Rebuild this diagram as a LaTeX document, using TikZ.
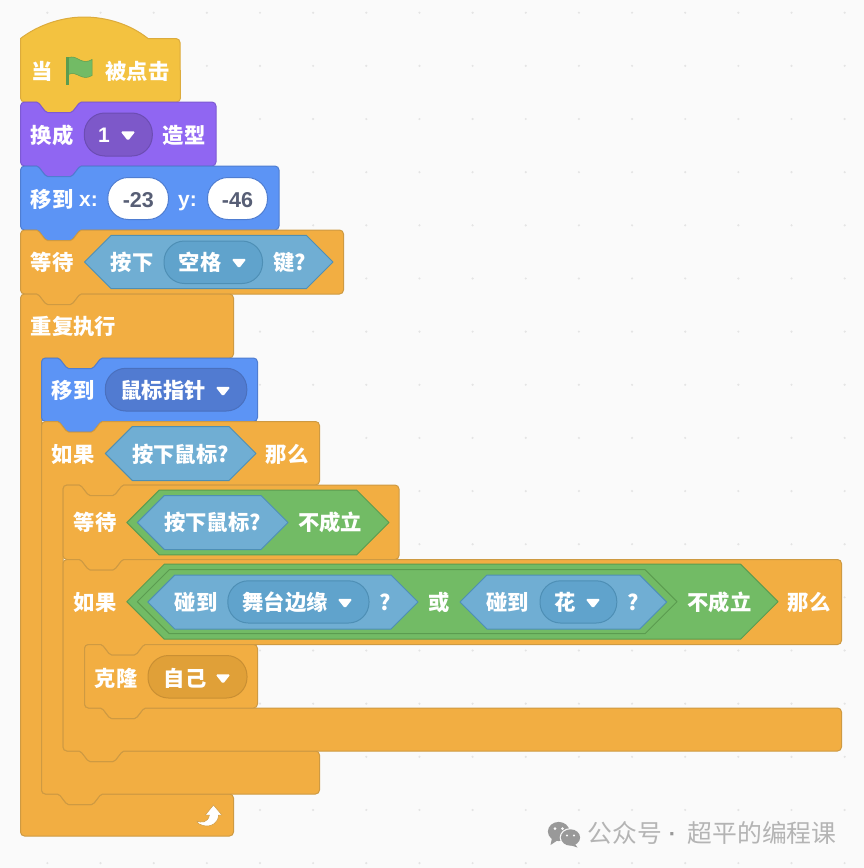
\documentclass[tikz,border=0pt]{standalone}
\usepackage{fontspec}
\setmainfont{Liberation Sans}
\newfontfamily\cjkf{Noto Sans CJK SC}
\definecolor{bgc}{HTML}{FAFAFA}
\definecolor{dotc}{HTML}{E4E4E4}
\definecolor{orf}{HTML}{F2AE42}
\definecolor{ord}{HTML}{CE9A42}
\definecolor{orp}{HTML}{E0A038}
\definecolor{orq}{HTML}{C98F33}
\definecolor{hatf}{HTML}{F3C240}
\definecolor{hatd}{HTML}{DCAB3C}
\definecolor{puf}{HTML}{9066F2}
\definecolor{pud}{HTML}{7D5AD2}
\definecolor{pup}{HTML}{7D58C9}
\definecolor{puq}{HTML}{6C4DB3}
\definecolor{blf}{HTML}{5C94F5}
\definecolor{bld}{HTML}{4F7DD1}
\definecolor{blp}{HTML}{517BD1}
\definecolor{blq}{HTML}{4A70BE}
\definecolor{sef}{HTML}{70AED3}
\definecolor{sed}{HTML}{4E8FB5}
\definecolor{sep}{HTML}{60A3CC}
\definecolor{grf}{HTML}{72BB65}
\definecolor{grd}{HTML}{5B9C50}
\definecolor{numc}{HTML}{575E75}
\definecolor{wmc}{HTML}{B4B4B4}
\tikzset{
  lbl/.style={inner sep=0pt,text=white,font=\cjkf\bfseries\fontsize{21.3}{21}\selectfont},
  lat/.style={inner sep=0pt,text=white,font=\bfseries\fontsize{21}{21}\selectfont},
  num/.style={inner sep=0pt,text=numc,font=\bfseries\fontsize{21.5}{21}\selectfont},
  wm/.style={inner sep=0pt,text=wmc,font=\cjkf\fontsize{24.8}{25}\selectfont},
  wmd/.style={inner sep=0pt,text=wmc!85!black,font=\bfseries\fontsize{22}{22}\selectfont},
  edge/.style={line width=1pt,line join=round},
  orb/.style={edge,fill=orf,draw=ord},
  hat/.style={edge,fill=hatf,draw=hatd},
  pub/.style={edge,fill=puf,draw=pud},
  blb/.style={edge,fill=blf,draw=bld},
  hexs/.style={edge,fill=sef,draw=sed},
  hexg/.style={edge,fill=grf,draw=grd},
  pills/.style={edge,fill=sep,draw=sed},
  pillp/.style={edge,fill=pup,draw=puq},
  pillb/.style={edge,fill=blp,draw=blq},
  pillo/.style={edge,fill=orp,draw=orq},
  pillw/.style={edge,fill=white,draw=bld},
}
\def\sbTL{.. controls +(0,-2.2) and +(-2.2,0) .. ++(4,-4)}
\def\sbTR{.. controls +(2.2,0) and +(0,-2.2) .. ++(4,4)}
\def\sbBR{.. controls +(0,2.2) and +(2.2,0) .. ++(-4,4)}
\def\sbBL{.. controls +(-2.2,0) and +(0,2.2) .. ++(-4,-4)}
\def\sbIA{.. controls +(-2.2,0) and +(0,-2.2) .. ++(-4,4)}
\def\sbIB{.. controls +(0,2.2) and +(-2.2,0) .. ++(4,4)}
\def\sbND{.. controls +(3.5,0) and +(-3.5,0) .. ++(11,10.5)}
\def\sbNU{.. controls +(3.5,0) and +(-3.5,0) .. ++(11,-10.5)}
\def\sbBU{.. controls +(-3.5,0) and +(3.5,0) .. ++(-11,10.5)}
\def\sbBD{.. controls +(-3.5,0) and +(3.5,0) .. ++(-11,-10.5)}
\def\sbTN{-- ++(12,0) \sbND -- ++(23,0) \sbNU}
\def\sbBN{\sbBU -- ++(-23,0) \sbBD}
% style, x, y-top, x-right, y-bottom
\newcommand\stackblk[5]{\draw[#1] (#2,#3+4) \sbTL \sbTN -- ({#4-4},#3) \sbTR -- (#4,{#5-4}) \sbBR -- ({#2+61},#5) \sbBN -- ({#2+4},#5) \sbBL -- cycle;}
% x, ytop, inner x, head right, head bottom, arm top, arm right, bottom, bottom notch
\newcommand\cblk[9]{\draw[orb] (#1,#2+4) \sbTL \sbTN -- ({#4-4},#2) \sbTR -- (#4,{#5-4}) \sbBR -- ({#3+61},#5) \sbBN -- ({#3+4},#5) \sbIA -- (#3,{#6-4}) \sbIB \sbTN -- ({#7-4},#6) \sbTR -- (#7,{#8-4}) \sbBR -- ({#1+61},#8) #9 -- ({#1+4},#8) \sbBL -- cycle;}
% style, x1, x2, ym, half height
\newcommand\hexa[5]{\draw[#1] (#2,#4) -- ({#2+#5},{#4-#5}) -- ({#3-#5},{#4-#5}) -- (#3,#4) -- ({#3-#5},{#4+#5}) -- ({#2+#5},{#4+#5}) -- cycle;}
% style, x1, y1, x2, y2
\newcommand\pill[5]{\draw[#1,rounded corners=20.5] (#2,#3) rectangle (#4,#5);}
\newcommand\ddn[2]{\fill[white,rounded corners=1.6] ({#1-7.5},{#2-4.2}) -- ({#1+7.5},{#2-4.2}) -- (#1,{#2+5.4}) -- cycle;}
\newcommand\tx[4]{\node[lbl,anchor=base] (#1) at (#2,{#3+8.4}) {#4};}
\newcommand\ltx[4]{\node[lat,anchor=base] (#1) at (#2,{#3+7.7}) {#4};}
\newcommand\ntx[4]{\node[num,anchor=base] (#1) at (#2,{#3+8}) {#4};}
\begin{document}
\begin{tikzpicture}[x=1pt,y=-1pt]
\useasboundingbox (0,0) rectangle (864,868);
\fill[bgc] (0,0) rectangle (864,868);
\foreach \i in {0,...,15} \foreach \j in {0,...,16}
  \fill[dotc] ({47.4+53.15*\i},{12.7+53.15*\j}) circle (1.2);

% --- blocks
\draw[hat] (20.5,42) -- (20.5,38.5) .. controls (38,25) and (62,17) .. (84,17) .. controls (106,17) and (130,24) .. (148,38.5) -- (176,38.5) \sbTR -- (180.5,98) \sbBR -- (81.5,102) \sbBN -- (24.5,102) \sbBL -- cycle;
\stackblk{pub}{20.5}{102}{216}{166}
\stackblk{blb}{20.5}{166}{279}{230}
\stackblk{orb}{20.5}{230}{343.5}{294}
\cblk{20.5}{294}{41.5}{233.5}{358}{794}{233.5}{836}{}
\stackblk{blb}{41.5}{358}{257.5}{421.5}
\cblk{41.5}{421.5}{63}{319.5}{485}{751}{319.5}{794}{\sbBN}
\stackblk{orb}{63}{485}{399}{559.5}
\cblk{63}{559.5}{84.5}{841.5}{644.5}{708}{841.5}{751}{\sbBN}
\stackblk{orb}{84.5}{644.5}{257.5}{708}

% --- hat block
\tx{tDang}{42}{71}{当}
\fill[grf,draw=grd,line width=.5pt] (68,58) .. controls (73,55.5) and (76,58) .. (80,60) .. controls (84,62) and (88,62) .. (92,59.5) -- (92,75.5) .. controls (88,78) and (84,78) .. (80,76) .. controls (76,74) and (73,72.5) .. (68,74.5) -- cycle;
\fill[grd] (66.4,57) rectangle (69,84.5);
\tx{tClick}{137.5}{71}{被点击}

% --- costume
\tx{tSwitch}{52}{135}{换成}
\pill{pillp}{84.3}{113}{152.3}{156}
\ltx{tOne}{104}{135}{1}
\ddn{128}{135.5}
\tx{tCostume}{184}{135}{造型}

% --- go to x y
\tx{tGoto}{52}{199}{移到}
\ltx{tX}{88.5}{199}{x:}
\pill{pillw}{107.8}{177.5}{168.5}{219.5}
\ntx{nX}{138.3}{199}{-23}
\ltx{tY}{187.5}{199}{y:}
\pill{pillw}{207.5}{177.5}{267.5}{219.5}
\ntx{nY}{237.5}{199}{-46}

% --- wait key
\tx{tWait}{52}{262}{等待}
\hexa{hexs}{84.5}{333}{262}{26.7}
\tx{tPress}{132}{262}{按下}
\pill{pills}{164}{241}{262.5}{283.5}
\tx{tSpace}{200}{262}{空格}
\ddn{239}{263}
\tx{tKey}{289.5}{262}{键?}

% --- forever
\tx{tForever}{73.5}{326}{重复执行}

% --- go to mouse
\tx{tGoto2}{73}{390}{移到}
\pill{pillb}{105.3}{368.3}{246.8}{411}
\tx{tMouse}{163}{390}{鼠标指针}
\ddn{223}{391}

% --- if mouse down
\tx{tIf}{73}{454}{如果}
\hexa{hexs}{105.3}{256}{453.5}{27}
\tx{tMdown}{180.5}{454}{按下鼠标?}
\tx{tThen}{287}{454}{那么}

% --- wait not
\tx{tWait2}{95}{522.5}{等待}
\hexa{hexg}{126.8}{389}{522.5}{32.3}
\hexa{hexs}{137.3}{288}{522.5}{27}
\tx{tMdown2}{212.5}{522.5}{按下鼠标?}
\tx{tNot}{330}{522.5}{不成立}

% --- if not or
\tx{tIf2}{95}{602}{如果}
\hexa{hexg}{126.8}{778}{601.7}{37.5}
\hexa{hexg}{137.3}{677}{601.7}{32}
\hexa{hexs}{147.8}{418}{602}{27}
\hexa{hexs}{460}{666.7}{602}{27}
\tx{tTouch}{196}{602}{碰到}
\pill{pills}{227.8}{580.8}{369}{623}
\tx{tEdge}{285}{602}{舞台边缘}
\ddn{345}{603}
\tx{tQ}{385}{602}{?}
\tx{tOr}{439}{602}{或}
\tx{tTouch2}{507.5}{602}{碰到}
\pill{pills}{540}{580.8}{616.8}{623}
\tx{tFlower}{565.5}{602}{花}
\ddn{593}{603}
\tx{tQ2}{633}{602}{?}
\tx{tNot2}{719.5}{602}{不成立}
\tx{tThen2}{809}{602}{那么}

% --- clone
\tx{tClone}{116}{678}{克隆}
\pill{pillo}{148}{655.5}{247}{698}
\tx{tSelf}{185}{678}{自己}
\ddn{223}{678.5}

% --- loop arrow
\draw[fill=white,draw=ord,line width=.5pt,line join=round] (213.5,805) -- (221.8,815) -- (218.5,815) .. controls (218.5,823) and (211,827.5) .. (203,825.5) .. controls (200,825) and (197,823) .. (196.5,821) .. controls (201,823) and (208,823) .. (209.5,815) -- (205.3,815) -- cycle;

% --- watermark
\fill[wmc!85!black] (558.7,831.5) ellipse (10.8 and 9.6);
\fill[wmc!85!black] (552,838) -- (550.5,845) -- (558,840) -- cycle;
\fill[bgc] (570.5,837.5) ellipse (10.8 and 9.4);
\fill[wmc!85!black] (570.5,837.5) ellipse (9.6 and 8.2);
\fill[wmc!85!black] (574.5,843) -- (577.5,847.5) -- (570,845) -- cycle;
\fill[bgc] (555,828.5) circle (1.5) (562.5,828.5) circle (1.5) (567,835.5) circle (1.2) (574,835.5) circle (1.2);
\node[wm,anchor=base west] (wmA) at (587.5,842.5) {公众号};
\node[wmd,anchor=base] (wmDot) at (672.5,841) {·};
\node[wm,anchor=base west] (wmB) at (687.5,842.5) {超平的编程课};
\end{tikzpicture}
\end{document}
